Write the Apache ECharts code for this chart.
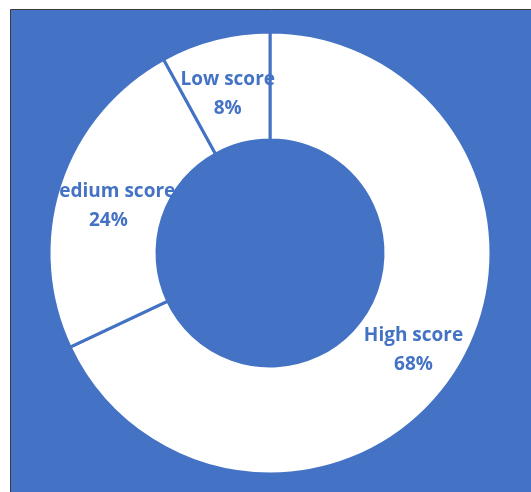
<!DOCTYPE html>
<html>
<head>
<meta charset="utf-8">
<script src="https://cdn.jsdelivr.net/npm/echarts@6/dist/echarts.min.js"></script>
<style>
html,body{margin:0;padding:0;background:#fff;}
#c{width:531px;height:492px;}
</style>
</head>
<body>
<div id="c"></div>
<script>
const categories = ['High score', 'Medium score', 'Low score'];
const values = [68, 24, 8];

const BLUE = '#4472C4';
const chart = echarts.init(document.getElementById('c'), null, {renderer: 'canvas'});
chart.setOption({
  animation: false,
  backgroundColor: '#ffffff',
  graphic: [{
    type: 'rect',
    z: -10,
    shape: {x: 10.5, y: 9.5, width: 700, height: 700},
    style: {fill: BLUE, stroke: '#3a3a3a', lineWidth: 1}
  }],
  series: [{
    type: 'pie',
    center: [270, 253],
    radius: [113, 221],
    startAngle: 90,
    clockwise: true,
    avoidLabelOverlap: false,
    itemStyle: {color: '#ffffff', borderColor: BLUE, borderWidth: 3},
    label: {
      show: true,
      position: 'inside',
      offset: [0, 6],
      color: BLUE,
      fontFamily: 'Open Sans',
      fontWeight: 'bold',
      fontSize: 19,
      lineHeight: 29,
      formatter: p => p.name + '\n' + Math.round(p.percent) + '%'
    },
    labelLine: {show: false},
    emphasis: {disabled: true},
    data: categories.map((n, i) => ({name: n, value: values[i]}))
  }]
});
</script>
</body>
</html>
